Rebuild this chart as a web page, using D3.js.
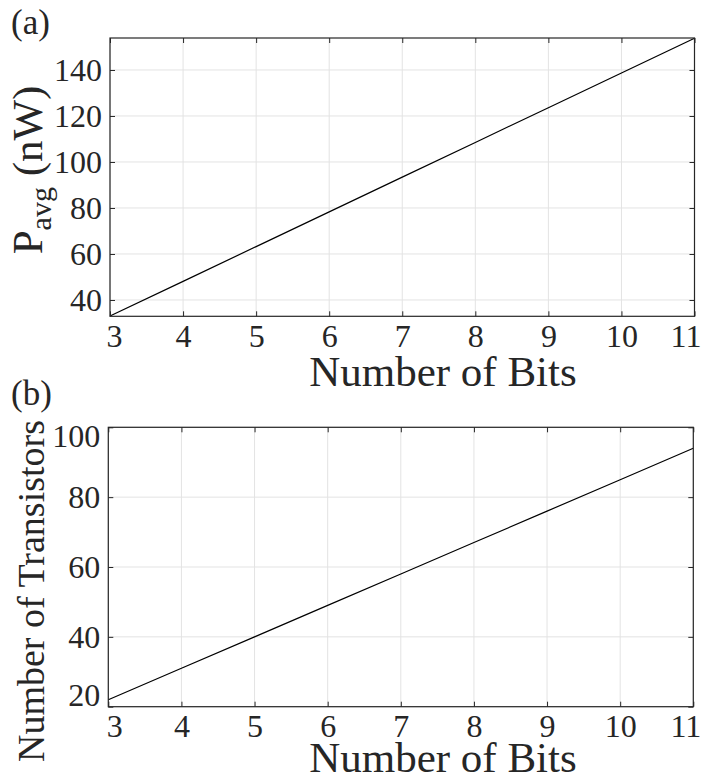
<!DOCTYPE html>
<html><head><meta charset="utf-8">
<script src="https://cdn.jsdelivr.net/npm/d3@7"></script>
<style>
body{margin:0;background:#fff}
svg{display:block;font-family:"Liberation Serif","Times New Roman","DejaVu Serif",serif}
svg text{font-family:"Liberation Serif","Times New Roman","DejaVu Serif",serif !important;fill:#262626}
</style>
</head><body><svg id="c" width="718" height="776"></svg>
<script>
const bits = [3, 4, 5, 6, 7, 8, 9, 10, 11];
const powerNW = [33.0, 48.1, 63.2, 78.3, 93.4, 108.5, 123.6, 138.7, 153.8];
const transistors = [22, 31, 40, 49, 58, 67, 76, 85, 94];
const xTicks = [3, 4, 5, 6, 7, 8, 9, 10, 11];
const yTicksA = [40, 60, 80, 100, 120, 140];
const yTicksB = [20, 40, 60, 80, 100];
const xLabel = "Number of Bits";
const yLabelB = "Number of Transistors";

const SERIF = '"Liberation Serif","Times New Roman",serif';
const svg = d3.select("#c");
const AX = "#262626", GRID = "#e3e3e3";

function panel(o) {
  const x = d3.scaleLinear().domain([3, 11]).range([o.l, o.r]);
  const y = d3.scaleLinear().domain(o.yDom).range([o.b, o.t]);
  const g = svg.append("g");
  g.selectAll(".gx").data(xTicks).join("line")
    .attr("x1", d => x(d)).attr("x2", d => x(d)).attr("y1", o.t).attr("y2", o.b)
    .attr("stroke", GRID).attr("stroke-width", 1);
  g.selectAll(".gy").data(o.yTicks).join("line")
    .attr("y1", d => y(d)).attr("y2", d => y(d)).attr("x1", o.l).attr("x2", o.r)
    .attr("stroke", GRID).attr("stroke-width", 1);
  g.append("path").datum(d3.zip(bits, o.values))
    .attr("d", d3.line().x(d => x(d[0])).y(d => y(d[1])))
    .attr("fill", "none").attr("stroke", "#000").attr("stroke-width", 1.2);
  const fs = 32;
  const bx = g.append("g").attr("transform", `translate(0,${o.b})`)
    .call(d3.axisBottom(x).tickValues(xTicks).tickFormat(d3.format("d")).tickSizeInner(-5).tickSizeOuter(0).tickPadding(8));
  const tx = g.append("g").attr("transform", `translate(0,${o.t})`)
    .call(d3.axisTop(x).tickValues(xTicks).tickFormat("").tickSizeInner(-5).tickSizeOuter(0));
  const ly = g.append("g").attr("transform", `translate(${o.l},0)`)
    .call(d3.axisLeft(y).tickValues(o.yTicks).tickFormat(d3.format("d")).tickSizeInner(-5).tickSizeOuter(0).tickPadding(8));
  const ry = g.append("g").attr("transform", `translate(${o.r},0)`)
    .call(d3.axisRight(y).tickValues(o.yTicks).tickFormat("").tickSizeInner(-5).tickSizeOuter(0));
  [bx, tx, ly, ry].forEach(a => {
    a.attr("font-family", SERIF).attr("font-size", fs);
    a.select(".domain").remove();
    a.selectAll("line").attr("stroke", AX).attr("stroke-width", 1);
    a.selectAll("text").style("font-family", SERIF).style("font-size", fs + "px").attr("fill", AX);
  });
  bx.selectAll("text").attr("dx", (d, i) => i === 0 ? o.xn[0] : (i === xTicks.length - 1 ? o.xn[1] : 0));
  ly.selectAll("text").attr("transform", d => d === o.yDom[0] ? `translate(0,${o.yn[0]})` : (d === o.yDom[1] ? `translate(0,${o.yn[1]})` : null));
  g.append("rect").attr("x", o.l).attr("y", o.t).attr("width", o.r - o.l).attr("height", o.b - o.t)
    .attr("fill", "none").attr("stroke", AX).attr("stroke-width", 1.2);
  g.append("text").attr("x", 443).attr("y", o.xlY).attr("text-anchor", "middle")
    .style("font-family", SERIF).style("font-size", "43px").text(xLabel);
  g.append("text").attr("x", 11).attr("y", o.tagY)
    .style("font-family", SERIF).style("font-size", "35px").text(o.tag);
  return {g, x, y};
}

panel({l: 110, r: 694.5, t: 38, b: 316.3, yDom: [32.9, 153.9], yTicks: yTicksA,
  values: powerNW, xn: [4, -9], yn: [0, 0], tag: "(a)", tagY: 34, xlY: 386});
panel({l: 108.3, r: 693.3, t: 427.3, b: 706.7, yDom: [20, 100], yTicks: yTicksB,
  values: transistors, xn: [6, -8], yn: [-11, 9], tag: "(b)", tagY: 405, xlY: 772});

const ya = svg.append("text").attr("transform", "translate(42,170) rotate(-90)")
  .attr("text-anchor", "middle").style("font-family", SERIF).style("font-size", "43px");
ya.append("tspan").text("P");
ya.append("tspan").style("font-size", "30px").attr("dy", 9).text("avg");
ya.append("tspan").attr("dy", -9).text(" (nW)");

svg.append("text").attr("transform", "translate(44,591) rotate(-90)")
  .attr("text-anchor", "middle").style("font-family", SERIF).style("font-size", "38px").text(yLabelB);
</script>
</body></html>
